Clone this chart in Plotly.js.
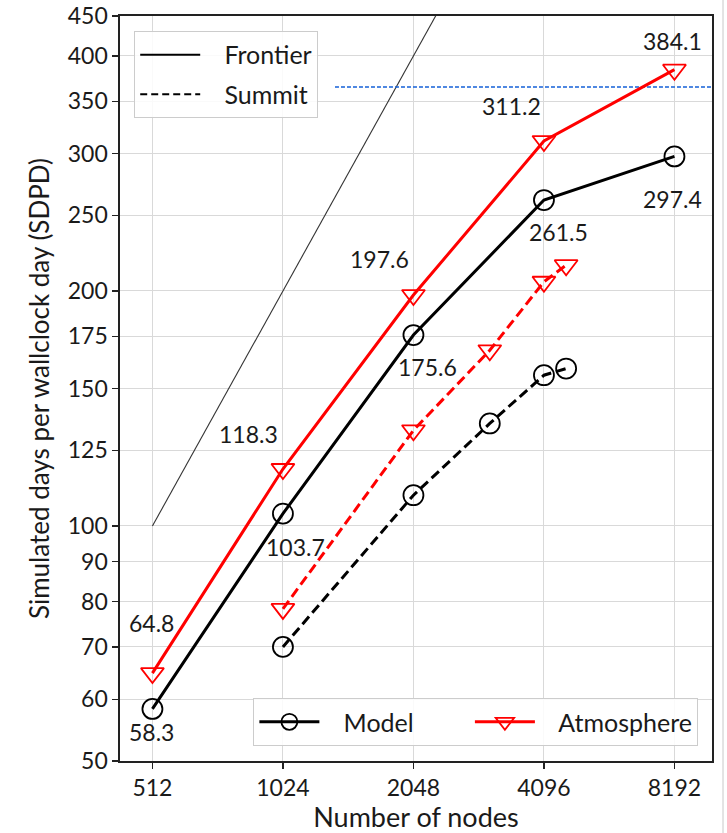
<!DOCTYPE html>
<html>
<head>
<meta charset="utf-8">
<script src="https://cdn.plot.ly/plotly-3.0.1.min.js"></script>
<style>html,body{margin:0;padding:0;background:#fff;}#chart{width:727px;height:833px;}</style>
</head>
<body>
<div id="chart"></div>
<script>
// ---- data ----
const nodesFrontier = [512, 1024, 2048, 4096, 8192];
const frontierModel = [58.3, 103.7, 175.6, 261.5, 297.4];
const frontierAtmos = [64.8, 118.3, 197.6, 311.2, 384.1];
const nodesSummit = [1024, 2048, 3072, 4096, 4608];
const summitModel = [70.0, 109.5, 135.3, 156.0, 159.1];
const summitAtmos = [78.3, 132.6, 167.9, 205.5, 215.8];
const idealNodes = [512, 1024, 2048, 4096];
const idealSDPD = [100, 200, 400, 800];
const oneYearNodes = [1350, 10000];
const oneYearSDPD = [365, 365];
const xTickVals = [512, 1024, 2048, 4096, 8192];
const xTickText = ["512", "1024", "2048", "4096", "8192"];
const yTickVals = [50, 60, 70, 80, 90, 100, 125, 150, 175, 200, 250, 300, 350, 400, 450];
const yTickText = ["50", "60", "70", "80", "90", "100", "125", "150", "175", "200", "250", "300", "350", "400", "450"];

// ---- styling ----
const FONT = "Lato, 'DejaVu Sans', sans-serif";
const TXT = "#1a1a1a";
const modelOffsets = [[-1, -23], [13, -33], [14, -32], [15, -32], [-2, -43]];
const atmosOffsets = [[-1, 50], [-34, 35], [-34, 36], [-32, 35], [-2, 29]];
const SP = "&nbsp;&nbsp;&nbsp;";
const TRAIL = "&nbsp;&nbsp;&nbsp;&nbsp;&nbsp;&nbsp;&nbsp;&nbsp;";

const circle = {symbol: "circle-open", size: 20, color: "black", line: {width: 1.8, color: "black"}};
const tri = {symbol: "triangle-down-open", size: 20, color: "red", line: {width: 1.8, color: "red"}};

const traces = [
  {x: idealNodes, y: idealSDPD, mode: "lines", line: {color: "#333", width: 1.1}, showlegend: false, hoverinfo: "skip"},
  {x: oneYearNodes, y: oneYearSDPD, mode: "lines", line: {color: "#1560d8", width: 1.4, dash: "4px,2px"}, showlegend: false},
  {x: nodesFrontier, y: frontierModel, mode: "lines+markers", line: {color: "black", width: 3}, marker: circle, showlegend: false},
  {x: nodesFrontier, y: frontierAtmos, mode: "lines+markers", line: {color: "red", width: 3}, marker: tri, showlegend: false},
  {x: nodesSummit, y: summitModel, mode: "lines+markers", line: {color: "black", width: 3, dash: "10px,5px"}, marker: circle, showlegend: false},
  {x: nodesSummit, y: summitAtmos, mode: "lines+markers", line: {color: "red", width: 3, dash: "10px,5px"}, marker: tri, showlegend: false},
  // legend 1 entries
  {x: [null], y: [null], mode: "lines", name: SP + "Frontier", line: {color: "black", width: 2}, legend: "legend", legendgroup: "f"},
  {x: [null], y: [null], mode: "lines", name: SP + "Summit", line: {color: "black", width: 2, dash: "7px,4px"}, legend: "legend", legendgroup: "s"},
  // legend 2 entries
  {x: [null], y: [null], mode: "lines+markers", name: SP + "Model" + TRAIL, line: {color: "black", width: 3}, marker: circle, legend: "legend2"},
  {x: [null], y: [null], mode: "lines+markers", name: SP + "Atmosphere", line: {color: "red", width: 3}, marker: tri, legend: "legend2"}
];

const annotations = [];
frontierModel.forEach((v, i) => {
  annotations.push({x: Math.log10(nodesFrontier[i]), y: Math.log10(v), xref: "x", yref: "y", text: v.toFixed(1),
    showarrow: false, xshift: modelOffsets[i][0], yshift: modelOffsets[i][1], font: {family: FONT, size: 23, color: TXT}});
});
frontierAtmos.forEach((v, i) => {
  annotations.push({x: Math.log10(nodesFrontier[i]), y: Math.log10(v), xref: "x", yref: "y", text: v.toFixed(1),
    showarrow: false, xshift: atmosOffsets[i][0], yshift: atmosOffsets[i][1], font: {family: FONT, size: 23, color: TXT}});
});

const layout = {
  width: 727, height: 833,
  margin: {l: 120, r: 15, t: 16, b: 72},
  paper_bgcolor: "white", plot_bgcolor: "white",
  font: {family: FONT, size: 22, color: TXT},
  xaxis: {
    type: "log", range: [Math.log10(431), 4],
    tickvals: xTickVals, ticktext: xTickText,
    ticks: "outside", ticklen: 6, tickwidth: 1.2, tickcolor: "#222",
    showline: true, linecolor: "#222", linewidth: 1.6, mirror: true,
    showgrid: true, gridcolor: "#d9d9d9", gridwidth: 1, zeroline: false,
    tickfont: {family: FONT, size: 23, color: TXT},
    title: {text: "Number of nodes", font: {family: FONT, size: 27, color: TXT}, standoff: 4}
  },
  yaxis: {
    type: "log", range: [Math.log10(50), Math.log10(450)],
    tickvals: yTickVals, ticktext: yTickText,
    ticks: "outside", ticklen: 6, tickwidth: 1.2, tickcolor: "#222",
    showline: true, linecolor: "#222", linewidth: 1.6, mirror: true,
    showgrid: true, gridcolor: "#d9d9d9", gridwidth: 1, zeroline: false,
    tickfont: {family: FONT, size: 23, color: TXT},
    title: {text: "Simulated days per wallclock day (SDPD)", font: {family: FONT, size: 26, color: TXT}, standoff: 10}
  },
  legend: {
    x: 0.024, y: 0.98, xanchor: "left", yanchor: "top",
    bgcolor: "rgba(255,255,255,0.85)", bordercolor: "#cccccc", borderwidth: 1,
    font: {family: FONT, size: 25, color: TXT}, itemwidth: 60, tracegroupgap: 4
  },
  legend2: {
    orientation: "h", x: 0.977, y: 0.02, xanchor: "right", yanchor: "bottom",
    bgcolor: "rgba(255,255,255,0.85)", bordercolor: "#cccccc", borderwidth: 1,
    font: {family: FONT, size: 25, color: TXT}, itemwidth: 60
  },
  annotations: annotations,
  shapes: [
    {type: "line", xref: "paper", yref: "paper", x0: 1.0186, x1: 1.0186, y0: -0.097, y1: 1.0215,
     line: {color: "#c8c8c8", width: 1}}
  ],
  showlegend: true
};

Plotly.newPlot("chart", traces, layout, {displayModeBar: false, staticPlot: true});
</script>
</body>
</html>
